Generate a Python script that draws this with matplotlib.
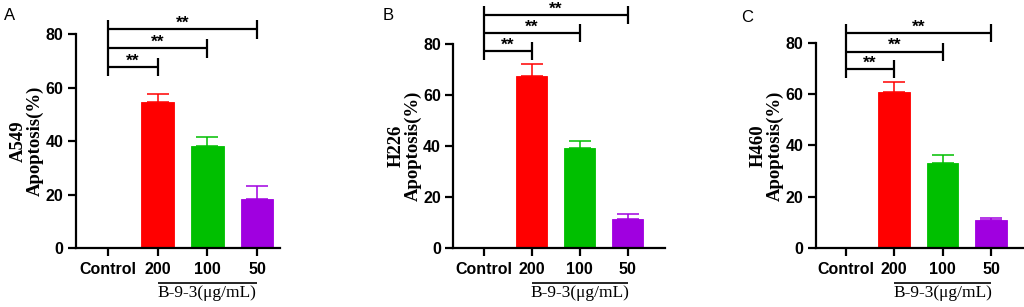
import matplotlib
matplotlib.use("Agg")
import matplotlib.pyplot as plt
from matplotlib.transforms import blended_transform_factory

# ---------------- data ----------------
groups = ["Control", "200", "100", "50"]
colors = ["#FFFFFF", "#FF0000", "#00BF00", "#A000E0"]

a549_mean = [0, 54.7, 38.1, 18.2]
a549_err = [0, 3.0, 3.4, 5.1]
h226_mean = [0, 67.7, 39.2, 11.3]
h226_err = [0, 4.6, 2.7, 1.9]
h460_mean = [0, 60.8, 33.1, 10.8]
h460_err = [0, 3.9, 3.0, 0.8]

a549_sig = [67.8, 74.7, 81.8]
h226_sig = [77.4, 84.4, 91.4]
h460_sig = [69.6, 76.5, 83.6]
sig_label = "**"

panel_letters = ["A", "B", "C"]
cell_lines = ["A549", "H226", "H460"]
ylabel_text = "Apoptosis(%)"
bracket_text = "B-9-3(\u03bcg/mL)"
yticks = [0, 20, 40, 60, 80]

# ---------------- layout (pixels) ----------------
W, H = 1024, 307
fig = plt.figure(figsize=(W / 100, H / 100), dpi=100)

# left, right, top, bottom (px) ; xlim
axes_px = [
    (76, 280, 34.3, 248, (-0.64, 3.46)),
    (453.3, 665, 44.3, 248, (-0.64, 3.78)),
    (815.7, 1023, 42.7, 248, (-0.62, 3.66)),
]
letter_pos = [(10, 16), (388, 16), (747, 17)]

datasets = [
    (a549_mean, a549_err, a549_sig),
    (h226_mean, h226_err, h226_sig),
    (h460_mean, h460_err, h460_sig),
]

lw = 1.6
x = list(range(len(groups)))

for i, ((l, r, t, b, xl), (means, errs, sig)) in enumerate(zip(axes_px, datasets)):
    ax = fig.add_axes([l / W, (H - b) / H, (r - l) / W, (b - t) / H])
    hpx = b - t
    for xi, m, e, c in zip(x, means, errs, colors):
        if m > 0:
            ax.bar(xi, m, width=0.65, color=c, edgecolor=c, linewidth=0.6, zorder=2)
            ax.errorbar(xi, m, yerr=[[0], [e]], fmt="none", ecolor=c,
                        elinewidth=1.1, capsize=8, capthick=1.1, zorder=3)
    ax.set_xlim(*xl)
    ax.set_ylim(0, 80)
    ax.set_yticks(yticks)
    ax.set_xticks(x)
    ax.set_xticklabels(groups)
    for s in ["top", "right"]:
        ax.spines[s].set_visible(False)
    for s in ["left", "bottom"]:
        ax.spines[s].set_linewidth(lw)
    ax.tick_params(axis="both", width=lw, length=6, labelsize=11.5)
    ax.tick_params(axis="y", pad=3)
    ax.tick_params(axis="x", pad=4)
    for lab in ax.get_xticklabels() + ax.get_yticklabels():
        lab.set_fontweight("bold")
        lab.set_fontfamily("Liberation Sans")

    ax.set_ylabel(cell_lines[i] + "\n" + ylabel_text, fontfamily="Liberation Serif",
                  fontweight="bold", fontsize=13.5, linespacing=1.0, labelpad=1)

    # significance brackets
    half = 3.5
    for k, (yv, xe) in enumerate(zip(sig, x[1:])):
        ax.plot([0, xe], [yv, yv], color="black", lw=lw, clip_on=False,
                solid_capstyle="butt")
        ax.plot([xe, xe], [yv - half, yv + half], color="black", lw=lw,
                clip_on=False, solid_capstyle="butt")
        ax.text(xe / 2, yv + 0.6, sig_label, ha="center", va="baseline",
                fontsize=12.5, fontweight="bold", fontfamily="Liberation Sans",
                clip_on=False)
    ax.plot([0, 0], [min(sig) - half, max(sig) + half], color="black", lw=lw,
            clip_on=False, solid_capstyle="butt")

    # concentration bracket under x labels
    tr = blended_transform_factory(ax.transData, ax.transAxes)
    yline = -35 / hpx
    ax.plot([1, 3], [yline, yline], color="black", lw=1.2, transform=tr,
            clip_on=False, solid_capstyle="butt")
    ax.text(2, yline - 2 / hpx, bracket_text, transform=tr, ha="center", va="top",
            fontsize=12.5, fontfamily="Liberation Serif")

    lx, ly = letter_pos[i]
    fig.text(lx / W, 1 - ly / H, panel_letters[i], ha="center", va="center",
             fontsize=12, fontfamily="Liberation Sans")

fig.savefig("out.png", dpi=100)
